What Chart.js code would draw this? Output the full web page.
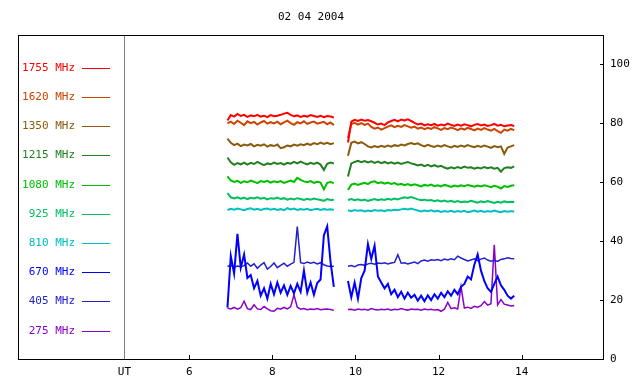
<!DOCTYPE html>
<html>
<head>
<meta charset="utf-8">
<script src="https://cdn.jsdelivr.net/npm/chart.js@4/dist/chart.umd.min.js"></script>
<style>
  body { margin: 0; background: #fff; }
</style>
</head>
<body>
<canvas id="spectroChart" width="640" height="384"></canvas>
<script>
// Chart title and axis ticks
const chartTitle = '02 04 2004';
const utPos = 4.44;
const xTicks = [utPos, 6, 8, 10, 12, 14];
const yTicks = [0, 20, 40, 60, 80, 100];

// UT hours (null row at 9.65 = data gap)
const times = [
  6.92, 7.00, 7.08, 7.16, 7.24, 7.32, 7.40, 7.48, 7.56, 7.64, 7.72, 7.80, 7.88, 7.96, 8.04, 8.12, 8.20,
  8.28, 8.36, 8.44, 8.52, 8.60, 8.68, 8.76, 8.84, 8.92, 9.00, 9.08, 9.16, 9.24, 9.32, 9.40, 9.48,
  9.65,
  9.82, 9.90, 9.98, 10.06, 10.14, 10.22, 10.30, 10.38, 10.46, 10.54, 10.62, 10.70, 10.78, 10.86, 10.94,
  11.02, 11.10, 11.18, 11.26, 11.34, 11.42, 11.50, 11.58, 11.66, 11.74, 11.82, 11.90, 11.98, 12.06, 12.14,
  12.22, 12.30, 12.38, 12.46, 12.54, 12.62, 12.70, 12.78, 12.86, 12.94, 13.02, 13.10, 13.18, 13.26, 13.34,
  13.42, 13.50, 13.58, 13.66, 13.74, 13.82
];

const labels = ['1755 MHz', '1620 MHz', '1350 MHz', '1215 MHz', '1080 MHz', '925 MHz', '810 MHz', '670 MHz', '405 MHz', '275 MHz'];
const colors = ['#ff0000', '#cc4400', '#8b5a0b', '#228022', '#00c000', '#00c060', '#00c0c0', '#0000ff', '#2222cc', '#8a00c8'];
const widths = [2, 2, 2, 2, 2, 2, 2, 2, 1.5, 1.5];

const mhz1755 = [
  81.0, 82.8, 82.3, 83.2, 82.5, 82.9, 82.2, 82.7, 82.4, 82.9, 82.3, 82.6, 82.1, 82.8, 82.4, 82.6, 82.9,
  83.3, 83.6, 82.9, 82.4, 82.7, 82.2, 82.6, 82.3, 82.8, 82.5, 82.2, 82.6, 82.1, 82.5, 82.3, 82.0,
  null,
  73.5, 80.6, 81.2, 80.8, 81.3, 80.9, 81.1, 80.7, 80.2, 79.6, 79.9, 79.4, 80.3, 80.8, 81.2, 80.7, 81.3,
  81.0, 81.4, 80.8, 80.2, 79.6, 79.9, 79.3, 79.7, 79.4, 79.8, 79.2, 79.6, 79.3, 79.9, 79.5, 79.1, 79.6,
  79.2, 79.7, 79.4, 79.0, 79.5, 79.8, 79.3, 79.6, 79.1, 79.4, 79.8, 79.2, 79.5, 79.0, 79.3, 79.4, 79.1
];
const mhz1620 = [
  80.0, 80.6, 79.8, 80.9, 80.2, 79.4, 80.7, 80.1, 80.5, 79.6, 80.3, 80.8, 79.9, 80.4, 80.0, 80.6, 79.7,
  80.3, 80.9, 80.1, 79.5, 80.4, 80.0, 80.7, 79.8, 80.3, 80.6, 79.9, 80.2, 80.5, 79.7, 80.3, 79.4,
  null,
  75.0, 79.8, 80.2, 79.6, 80.1, 79.5, 79.9, 78.8, 78.2, 78.6, 77.9, 78.4, 78.9, 79.3, 78.7, 79.2, 78.8,
  79.4, 79.0, 78.5, 78.9, 78.2, 78.6, 78.0, 78.5, 78.1, 78.7, 78.3, 77.8, 78.4, 78.0, 78.6, 78.2, 77.7,
  78.3, 77.9, 78.5, 78.1, 77.6, 78.2, 77.8, 78.4, 77.9, 77.5, 78.1, 77.4, 76.8, 77.9, 77.5, 78.1, 77.7
];
const mhz1350 = [
  74.8, 73.4, 72.6, 73.1, 72.3, 72.8, 72.5, 73.0, 72.2, 72.7, 72.4, 72.9, 72.1, 72.6, 72.3, 72.8, 71.6,
  71.9, 72.5, 72.2, 72.8, 72.4, 72.9, 72.6, 73.1, 72.7, 73.3, 72.9, 73.5, 73.0, 73.4, 72.9, 73.3,
  null,
  69.0, 73.4, 73.8, 73.2, 73.6, 73.0, 72.2, 71.8, 72.3, 71.9, 72.4, 72.0, 72.5, 72.1, 72.6, 72.3, 72.8,
  72.5, 73.0, 73.3, 72.9, 73.2, 72.6, 72.2, 72.7, 72.3, 72.0, 72.5, 72.1, 72.6, 72.2, 71.8, 72.4, 72.0,
  72.5, 72.1, 72.6, 72.2, 71.9, 72.4, 72.0, 72.5, 72.1, 71.7, 72.3, 71.9, 72.2, 69.6, 71.8, 72.2, 72.6
];
const mhz1215 = [
  68.4, 66.8, 65.9, 66.5, 66.1, 66.7, 66.0, 66.6, 66.2, 66.9, 66.3, 65.8, 66.4, 66.1, 66.7, 66.2, 66.5,
  66.0, 66.6, 66.3, 66.9, 66.4, 67.0, 66.5, 66.1, 66.6, 66.2, 66.7, 66.0, 64.2, 66.3, 66.7, 66.4,
  null,
  62.0, 66.4, 66.9, 67.3, 66.8, 67.2, 66.7, 67.1, 66.6, 67.0, 66.5, 66.9, 66.4, 66.8, 66.3, 66.7, 66.2,
  66.6, 66.9, 66.4, 66.1, 65.7, 66.0, 65.5, 65.9, 65.4, 65.8, 65.3, 65.6, 65.0, 64.6, 65.1, 64.7, 65.2,
  64.8, 65.3, 64.9, 65.1, 64.6, 65.0, 64.7, 65.2, 64.8, 65.1, 64.6, 64.9, 63.6, 64.8, 65.1, 64.9, 65.4
];
const mhz1080 = [
  62.0, 60.6, 60.1, 60.5, 59.8, 60.3, 60.0, 60.6, 60.2, 59.7, 60.4, 60.1, 60.5, 59.9, 60.3, 60.0, 60.4,
  59.8, 60.2, 60.6, 60.1, 61.5, 60.8, 60.3, 60.0, 60.4, 59.8, 60.2, 59.9, 57.6, 59.8, 60.1, 59.7,
  null,
  57.4, 59.2, 59.6, 59.1, 59.5, 59.8, 59.4, 60.1, 60.3, 59.7, 60.0, 59.5, 59.9, 59.4, 59.7, 59.2, 59.5,
  59.0, 59.4, 58.9, 59.3, 59.0, 58.6, 59.1, 58.8, 59.2, 58.7, 59.0, 58.6, 59.1, 58.8, 58.4, 58.9, 58.6,
  59.0, 58.7, 59.1, 58.8, 58.5, 58.9, 58.6, 59.0, 58.7, 58.3, 58.8, 58.5, 57.9, 58.7, 58.4, 58.8, 59.0
];
const mhz925 = [
  56.3, 54.9, 54.5, 54.9, 54.4, 54.8, 54.3, 54.7, 54.5, 54.9, 54.4, 54.7, 54.2, 54.6, 54.4, 54.8, 54.3,
  54.6, 54.1, 54.5, 54.2, 54.6, 54.3, 54.0, 54.4, 54.1, 54.5, 54.2, 54.0, 53.7, 54.3, 54.0, 54.1,
  null,
  54.0, 54.3, 53.9, 54.2, 53.8, 54.1, 53.7, 54.0, 54.3, 53.9, 54.2, 54.0, 54.4, 54.1, 54.5, 54.2, 54.6,
  54.9, 54.7, 55.0, 54.6, 54.2, 53.9, 54.1, 53.8, 54.0, 53.6, 53.9, 53.5, 53.8, 53.4, 53.7, 53.3, 53.6,
  53.2, 53.5, 53.3, 53.7, 53.4, 53.1, 53.5, 53.2, 53.6, 53.3, 53.0, 53.4, 53.1, 53.5, 53.2, 53.4, 53.3
];
const mhz810 = [
  50.6, 51.0, 50.7, 51.1, 50.8, 50.5, 50.9, 51.2, 50.7, 51.0, 50.6, 50.9, 51.1, 50.7, 51.0, 50.6, 50.9,
  50.5, 51.2, 50.8, 51.1, 50.6, 50.9, 50.7, 51.0, 50.5, 50.8, 51.0, 50.6, 50.9, 50.7, 50.8, 50.6,
  null,
  50.5, 50.2, 50.6, 50.3, 50.5, 50.1, 50.4, 50.2, 50.6, 50.3, 50.5, 50.2, 50.6, 50.4, 50.7, 50.5, 50.8,
  51.0, 50.8, 51.1, 50.7, 50.4, 50.1, 50.4, 50.2, 50.5, 50.1, 50.3, 49.9, 50.2, 50.0, 50.3, 49.9, 50.2,
  50.0, 50.3, 49.8, 50.1, 50.4, 50.0, 50.3, 49.9, 50.2, 50.0, 50.4, 50.1, 49.8, 50.2, 50.0, 50.2, 50.1
];
const mhz670 = [
  17.5, 35.0, 29.0, 42.5, 31.0, 35.5, 27.5, 28.5, 24.0, 26.5, 21.5, 24.0, 20.5, 25.5, 22.0, 26.0, 22.5,
  25.0, 21.8, 24.8, 22.3, 25.5, 22.8, 30.0, 22.5, 26.0, 21.8, 25.8, 27.0, 42.0, 45.0, 33.0, 24.5,
  null,
  26.5, 21.0, 26.0, 20.5, 27.5, 30.0, 39.0, 34.0, 38.5, 28.0, 26.0, 24.0, 25.5, 22.0, 23.5, 21.0, 22.8,
  20.5, 22.5, 20.8, 21.8, 19.8, 21.5, 19.6, 21.6, 20.0, 22.0, 20.5, 22.5, 21.0, 23.0, 21.5, 23.5, 22.0,
  24.5, 25.5, 28.0, 27.0, 32.0, 35.5, 30.0, 26.5, 24.0, 22.8, 25.5, 28.0, 25.0, 23.5, 21.5, 20.5, 21.5
];
const mhz405 = [
  31.4, 31.8, 31.2, 31.6, 31.3, 31.7, 32.6, 31.5, 32.3, 30.8, 31.9, 32.7, 30.5, 31.4, 32.6, 31.0, 31.8,
  32.5, 31.5, 32.2, 32.8, 45.0, 32.7, 32.4, 32.9, 32.5, 32.8, 32.3, 32.7, 32.0, 31.6, 31.4, 31.5,
  null,
  31.5, 31.7, 31.3, 31.9, 32.1, 31.8, 32.3, 32.5, 32.2, 32.6, 32.4, 32.7, 32.3, 32.6, 32.8, 35.4, 32.5,
  32.7, 32.3, 32.6, 32.9, 32.4, 33.3, 33.6, 33.2, 33.7, 33.5, 33.8, 33.4, 33.9, 33.6, 34.0, 33.7, 34.9,
  34.3, 33.8, 33.3, 33.6, 34.0, 33.4, 33.9, 34.3, 33.6, 33.2, 33.5, 33.1, 33.8, 34.0, 34.4, 34.1, 34.0
];
const mhz275 = [
  17.3, 17.0, 17.5, 16.9, 17.4, 19.6, 17.1, 16.8, 18.4, 17.0, 16.8, 17.8, 17.0, 16.4, 16.2, 17.2, 16.9,
  17.5, 17.0, 17.7, 21.8, 17.6, 16.9, 17.1, 16.7, 17.0, 16.8, 17.1, 16.7, 16.9, 17.0, 16.8, 16.5,
  null,
  16.8, 16.9, 16.6, 17.0, 16.7, 16.9, 16.6, 17.1, 16.8, 16.6, 16.9, 16.7, 17.0, 16.6, 16.9, 16.7, 17.1,
  16.8, 16.6, 17.0, 16.8, 16.9, 16.6, 17.0, 16.7, 16.9, 16.6, 16.8, 16.2, 16.9, 19.2, 17.1, 17.4, 17.0,
  24.6, 17.3, 17.6, 17.2, 17.9, 17.6, 18.1, 19.5, 18.3, 18.8, 38.8, 18.4, 20.2, 18.6, 18.3, 18.0, 18.2
];

const seriesValues = [mhz1755, mhz1620, mhz1350, mhz1215, mhz1080, mhz925, mhz810, mhz670, mhz405, mhz275];

const FONT = '11px "DejaVu Sans Mono", monospace';

// draws frame, UT line, inward tick marks, the left legend and the title
const framePlugin = {
    id: 'frame',
    afterDraw(chart) {
        const ctx = chart.ctx;
        const a = chart.chartArea;
        const xs = chart.scales.x;
        const ys = chart.scales.y;
        ctx.save();

        // UT separator
        const ux = Math.round(xs.getPixelForValue(utPos)) + 0.5;
        ctx.strokeStyle = '#808080';
        ctx.lineWidth = 1;
        ctx.beginPath();
        ctx.moveTo(ux, a.top);
        ctx.lineTo(ux, a.bottom);
        ctx.stroke();

        // box
        ctx.strokeStyle = '#000';
        ctx.strokeRect(a.left + 0.5, a.top + 0.5, a.right - a.left - 1, a.bottom - a.top);

        // tick marks pointing inward
        ctx.beginPath();
        xTicks.forEach(v => {
            if (v === utPos) return;
            const px = Math.round(xs.getPixelForValue(v)) + 0.5;
            ctx.moveTo(px, a.bottom);
            ctx.lineTo(px, a.bottom - 4);
        });
        yTicks.forEach(v => {
            const py = Math.round(ys.getPixelForValue(v)) + 0.5;
            ctx.moveTo(a.right, py);
            ctx.lineTo(a.right - 4, py);
        });
        ctx.stroke();

        // legend
        ctx.font = FONT;
        ctx.textBaseline = 'middle';
        ctx.textAlign = 'right';
        labels.forEach((lab, i) => {
            const y = Math.round(a.top + 32.7 + i * 29.2) + 0.5;
            ctx.fillStyle = colors[i];
            ctx.fillText(lab, a.left + 57, y);
            ctx.strokeStyle = colors[i];
            ctx.beginPath();
            ctx.moveTo(a.left + 64, y);
            ctx.lineTo(a.left + 92, y);
            ctx.stroke();
        });

        // title
        ctx.fillStyle = '#000';
        ctx.textAlign = 'center';
        ctx.fillText(chartTitle, (a.left + a.right) / 2, 17);
        ctx.restore();
    }
};

const ctx = document.getElementById('spectroChart').getContext('2d');
window.myChart = new Chart(ctx, {
    type: 'line',
    data: {
        datasets: seriesValues.map((vals, i) => ({
            label: labels[i],
            data: vals.map((v, j) => ({ x: times[j], y: v })),
            borderColor: colors[i],
            borderWidth: widths[i],
            borderJoinStyle: 'miter',
            pointRadius: 0,
            tension: 0,
            spanGaps: false,
            fill: false
        }))
    },
    options: {
        responsive: false,
        animation: false,
        devicePixelRatio: 1,
        layout: { padding: { left: 18, top: 35, right: 0, bottom: 0 } },
        plugins: {
            legend: { display: false },
            tooltip: { enabled: false }
        },
        scales: {
            x: {
                type: 'linear',
                min: 1.88,
                max: 15.98,
                grid: { display: false, drawTicks: false },
                border: { display: false },
                afterBuildTicks: scale => { scale.ticks = xTicks.map(v => ({ value: v })); },
                afterFit: scale => { scale.height = 25; },
                ticks: {
                    autoSkip: false,
                    maxRotation: 0,
                    padding: 7,
                    color: '#000',
                    font: { family: '"DejaVu Sans Mono", monospace', size: 11 },
                    callback: v => (v === utPos ? 'UT' : String(v))
                }
            },
            y: {
                type: 'linear',
                position: 'right',
                min: 0,
                max: 110,
                grid: { display: false, drawTicks: false },
                border: { display: false },
                afterBuildTicks: scale => { scale.ticks = yTicks.map(v => ({ value: v })); },
                afterFit: scale => { scale.width = 36; },
                ticks: {
                    padding: 6,
                    color: '#000',
                    font: { family: '"DejaVu Sans Mono", monospace', size: 11 }
                }
            }
        }
    },
    plugins: [framePlugin]
});
</script>
</body>
</html>
